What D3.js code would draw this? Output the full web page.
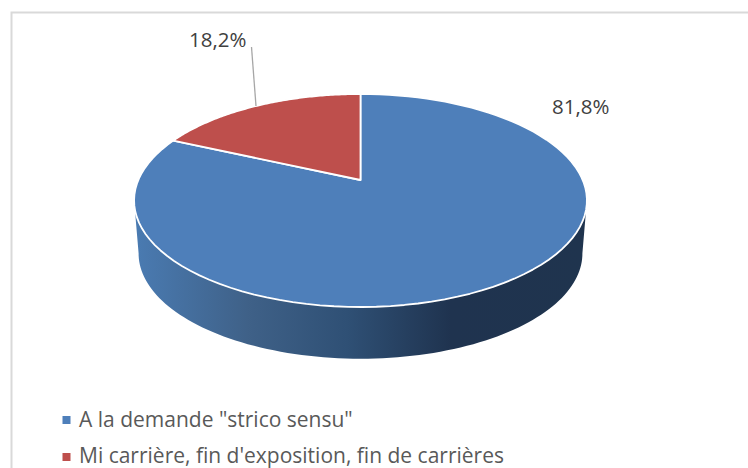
<!DOCTYPE html>
<html>
<head>
<meta charset="utf-8">
<script src="https://d3js.org/d3.v7.min.js"></script>
<style>
html,body{margin:0;padding:0;background:#fff;}
svg{display:block;}
text{font-family:"Open Sans",sans-serif;}
</style>
</head>
<body>
<svg id="chart" width="748" height="468"></svg>
<script>
var categories=['A la demande "strico sensu"',"Mi carrière, fin d'exposition, fin de carrières"];
var values=[81.8,18.2];
var valueLabels=["81,8%","18,2%"];
var colors=["#4e7fba","#be4f4c"];

var svg=d3.select("#chart");
var defs=svg.append("defs");

//frame, only top and left show in the picture
svg.append("path")
    .attr("d","M748,12.5H11.5V468")
    .attr("fill","none")
    .attr("stroke","#d9d9d9")
    .attr("stroke-width",2);

//the disc is tilted, so the apex sits above the ellipse middle
var cx=360.5, apexY=180, k=222.2, tilt=-0.1925, yA=67.9;
function project(angle,scale,dy){
    var u=Math.sin(angle), v=-Math.cos(angle), w=1+tilt*v;
    return [cx+scale*k*u/w, dy+(apexY+scale*yA*v)/w+(1-scale)*(200-apexY)];
}

var pie=d3.pie().sort(null).value(function(d){return d;});
var arcs=pie(values);
var line=d3.line();

function rimPoints(a0,a1,scale,dy){
    return d3.range(0,101).map(function(i){
        return project(a0+(a1-a0)*i/100,scale,dy);
    });
}

//side wall, runs between the widest points of the ellipse
var grad=defs.append("linearGradient")
    .attr("id","wall")
    .attr("gradientUnits","userSpaceOnUse")
    .attr("x1",134).attr("x2",587).attr("y1",0).attr("y2",0);
[[0,"#4a7bb2"],[0.25,"#3f6188"],[0.47,"#2f5075"],[0.7,"#1f334f"],[1,"#1f344e"]].forEach(function(s){
    grad.append("stop").attr("offset",s[0]).attr("stop-color",s[1]);
});
var widest=1.76;
var front=rimPoints(widest,2*Math.PI-widest,1,0);
var back=rimPoints(2*Math.PI-widest,widest,0.98,53);
svg.append("path")
    .attr("d",line(front.concat(back))+"Z")
    .attr("fill","url(#wall)");

//top slices
svg.selectAll("path.slice")
    .data(arcs)
    .enter().append("path")
    .attr("class","slice")
    .attr("d",function(d){
        return line([[cx,apexY]].concat(rimPoints(d.startAngle,d.endAngle,1,0)))+"Z";
    })
    .attr("fill",function(d,i){return colors[i];})
    .attr("stroke","#fff")
    .attr("stroke-width",1.8)
    .attr("stroke-linejoin","round");

//labels
svg.append("path")
    .attr("d","M251.5,47L256,106")
    .attr("fill","none")
    .attr("stroke","#a6a6a6")
    .attr("stroke-width",1.3);
var labelPos=[[552,114],[189,47]];
svg.selectAll("text.val")
    .data(valueLabels)
    .enter().append("text")
    .attr("class","val")
    .attr("x",function(d,i){return labelPos[i][0];})
    .attr("y",function(d,i){return labelPos[i][1];})
    .attr("font-size",20.5)
    .attr("fill","#404040")
    .text(function(d){return d;});

//legend
var legendY=[426.5,462.5];
var legend=svg.selectAll("g.legend")
    .data(categories)
    .enter().append("g")
    .attr("class","legend");
legend.append("rect")
    .attr("x",62.5)
    .attr("y",function(d,i){return [416,453][i];})
    .attr("width",8)
    .attr("height",8)
    .attr("fill",function(d,i){return colors[i];});
legend.append("text")
    .attr("x",79)
    .attr("y",function(d,i){return legendY[i];})
    .attr("font-size",21)
    .attr("fill","#595959")
    .text(function(d){return d;});
</script>
</body>
</html>
